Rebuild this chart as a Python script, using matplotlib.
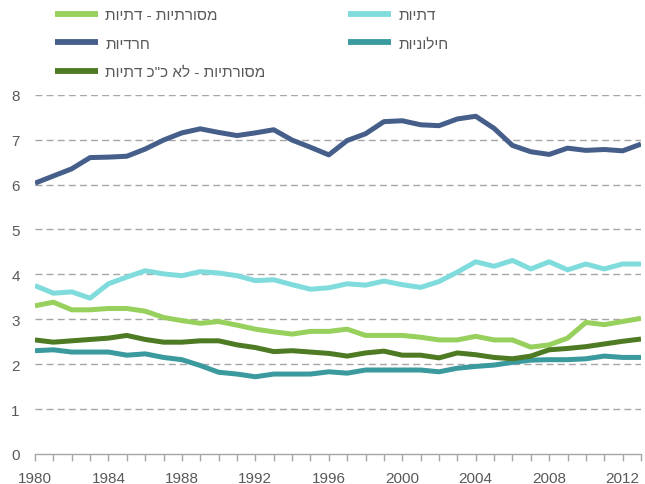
import matplotlib
matplotlib.use("Agg")
import matplotlib.pyplot as plt
from matplotlib.ticker import MultipleLocator, FixedLocator

years = list(range(1980, 2014))

haredi = [6.03, 6.19, 6.35, 6.60, 6.61, 6.63, 6.79, 6.99, 7.15, 7.24, 7.16, 7.09,
          7.15, 7.22, 6.99, 6.83, 6.66, 6.98, 7.13, 7.40, 7.42, 7.33, 7.31, 7.46,
          7.52, 7.25, 6.87, 6.73, 6.67, 6.81, 6.76, 6.78, 6.75, 6.90]
datiyot = [3.75, 3.58, 3.61, 3.47, 3.79, 3.94, 4.08, 4.01, 3.97, 4.06, 4.03, 3.97,
           3.86, 3.88, 3.77, 3.67, 3.70, 3.79, 3.76, 3.85, 3.77, 3.71, 3.84, 4.05,
           4.28, 4.18, 4.31, 4.12, 4.28, 4.10, 4.23, 4.12, 4.23, 4.23]
mas_dati = [3.30, 3.38, 3.21, 3.21, 3.24, 3.24, 3.18, 3.04, 2.97, 2.91, 2.95, 2.87,
            2.78, 2.72, 2.67, 2.73, 2.73, 2.78, 2.64, 2.64, 2.64, 2.60, 2.54, 2.54,
            2.62, 2.54, 2.54, 2.38, 2.43, 2.58, 2.93, 2.88, 2.95, 3.02]
mas_lo = [2.54, 2.49, 2.52, 2.55, 2.58, 2.64, 2.55, 2.49, 2.49, 2.52, 2.52, 2.43,
          2.37, 2.28, 2.30, 2.27, 2.24, 2.18, 2.25, 2.29, 2.20, 2.20, 2.14, 2.25,
          2.21, 2.15, 2.12, 2.18, 2.32, 2.35, 2.39, 2.45, 2.51, 2.56]
hiloni = [2.30, 2.32, 2.27, 2.27, 2.27, 2.20, 2.23, 2.15, 2.10, 1.97, 1.82, 1.78,
          1.72, 1.78, 1.78, 1.78, 1.83, 1.80, 1.87, 1.87, 1.87, 1.87, 1.83, 1.91,
          1.95, 1.98, 2.04, 2.09, 2.10, 2.10, 2.12, 2.18, 2.15, 2.15]

labels = {
    "mas_dati": "מסורתיות - דתיות",
    "haredi": "חרדיות",
    "mas_lo": 'מסורתיות - לא כ"כ דתיות',
    "datiyot": "דתיות",
    "hiloni": "חילוניות",
}
colors = {
    "mas_dati": "#97d05c",
    "haredi": "#465f8a",
    "mas_lo": "#4e7a23",
    "datiyot": "#80dcdc",
    "hiloni": "#3a9a9e",
}

def vis(s):
    # matplotlib has no bidi support: give Hebrew in visual order
    return s[::-1]

plt.rcParams['font.family'] = ['Liberation Sans', 'DejaVu Sans']

fig = plt.figure(figsize=(6.45, 4.85), dpi=100)
ax = fig.add_axes([35/645, 1 - 455/485, (641 - 35)/645, (455 - 95.7)/485])

series = {"haredi": haredi, "datiyot": datiyot, "mas_dati": mas_dati,
          "mas_lo": mas_lo, "hiloni": hiloni}
handles = {}
for key in ["haredi", "datiyot", "mas_dati", "hiloni", "mas_lo"]:
    ln, = ax.plot(years, series[key], color=colors[key], lw=3.6,
                  solid_joinstyle='round', solid_capstyle='butt', zorder=3,
                  label=vis(labels[key]))
    handles[key] = ln

ax.set_xlim(1980, 2013)
ax.set_ylim(0, 8)
ax.yaxis.set_major_locator(MultipleLocator(1))
ax.xaxis.set_major_locator(FixedLocator(list(range(1980, 2013, 4))))
ax.xaxis.set_minor_locator(FixedLocator(years))

for y in range(1, 9):
    ax.axhline(y, color="#a6a6a6", lw=1.0, ls=(0, (5, 3)), zorder=1)

for s in ["top", "right", "left"]:
    ax.spines[s].set_visible(False)
ax.spines["bottom"].set_color("#a6a6a6")
ax.spines["bottom"].set_linewidth(1.0)

ax.tick_params(axis='y', length=0, pad=11, labelsize=11, labelcolor="#595959")
ax.tick_params(axis='x', which='both', length=5, width=1, color="#a6a6a6",
               direction='out', labelsize=11, labelcolor="#595959", pad=7)

order = ["mas_dati", "haredi", "mas_lo", "datiyot", "hiloni"]
leg = fig.legend([handles[k] for k in order], [vis(labels[k]) for k in order],
                 loc='upper left', bbox_to_anchor=(55/645, 1 - 9/485),
                 ncol=2, frameon=False, fontsize=11, handlelength=2.8,
                 handletextpad=0.5, columnspacing=5.4, labelspacing=0.95,
                 borderpad=0, borderaxespad=0)
for t in leg.get_texts():
    t.set_color("#595959")
for l in leg.get_lines():
    l.set_linewidth(4.2)

fig.savefig("out.png", dpi=100)
